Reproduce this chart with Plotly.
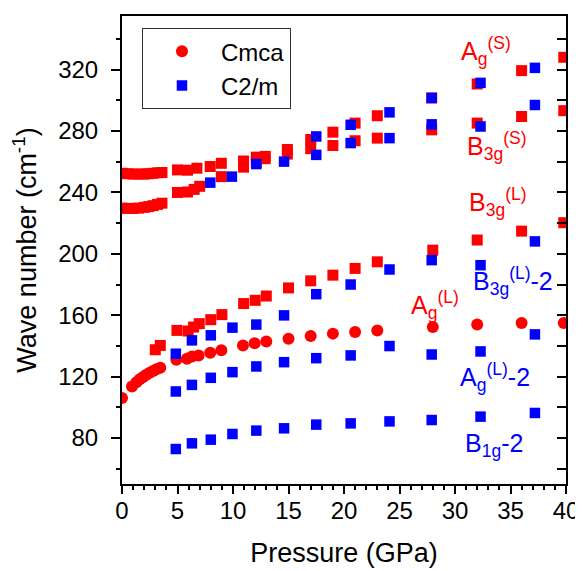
import plotly.graph_objects as go

# ---------------- data ----------------
# Cmca (red)
ag_s_p = [0, 0.5, 1.0, 1.5, 2.0, 2.4, 2.8, 3.2, 3.6, 5.0, 5.9, 6.75, 7.95, 8.95,
          10.95, 12.1, 12.9, 14.9, 17.0, 19.0, 21.0, 23.0, 27.9, 32.0, 36.0, 39.8]
ag_s_w = [252.5, 252.2, 252.0, 252.0, 252.0, 252.2, 252.5, 252.8, 253.0, 254.7, 254.5, 255.8, 256.9, 259.0,
          260.5, 263.0, 263.5, 268.0, 274.5, 279.3, 285.2, 290.0, 301.6, 310.7, 319.4, 328.1]

b3g_s_p = [0, 0.5, 1.0, 1.5, 2.0, 2.4, 2.8, 3.2, 3.6, 5.0, 5.9, 6.5, 7.0, 8.95,
           10.95, 12.1, 12.9, 14.9, 17.0, 19.0, 21.0, 23.0, 27.9, 32.0, 36.0, 39.8]
b3g_s_w = [229.8, 229.6, 229.6, 229.8, 230.3, 230.8, 231.4, 232.2, 233.0, 240.0, 240.3, 242.0, 244.0, 250.3,
           256.5, 259.5, 262.0, 265.0, 268.5, 270.6, 273.7, 275.4, 280.8, 285.2, 289.5, 293.3]

b3g_l_p = [3.0, 3.45, 4.95, 5.95, 6.45, 6.96, 8.0, 9.0, 10.96, 12.0, 13.0, 15.0,
           17.0, 19.0, 21.0, 23.0, 28.0, 32.0, 36.0, 39.8]
b3g_l_w = [137.5, 140.3, 150.1, 149.7, 152.3, 154.5, 157.1, 160.4, 167.6, 169.7, 172.5, 177.8,
           182.4, 186.1, 190.5, 194.8, 202.4, 209.0, 214.8, 220.3]

ag_l_p = [0, 0.9, 1.3, 1.6, 1.9, 2.2, 2.5, 2.8, 3.1, 3.45, 4.9, 5.85, 6.3, 6.9, 7.95, 8.95,
          10.9, 11.95, 13.0, 15.0, 17.0, 19.0, 21.0, 23.0, 28.0, 32.0, 36.0, 39.8]
ag_l_w = [106.1, 113.5, 116.3, 118.3, 119.8, 121.2, 122.5, 123.7, 124.8, 125.8, 131.0, 131.6, 133.1, 133.8, 135.5, 137.1,
          140.3, 141.8, 142.9, 144.7, 146.4, 148.0, 149.0, 150.1, 152.3, 154.0, 154.9, 155.0]

# C2/m (blue)
c2m_hi_p = [17.5, 20.6, 24.1, 27.9, 32.3, 37.2]
c2m_hi_w = [276.5, 284.1, 292.2, 301.6, 311.4, 321.2]

c2m_mid_p = [7.95, 9.9, 12.1, 14.6, 17.5, 20.6, 24.1, 27.9, 32.3, 37.2]
c2m_mid_w = [246.4, 250.3, 258.5, 260.1, 264.5, 272.2, 275.4, 284.4, 283.0, 297.0]

c2m_p = [4.85, 6.3, 8.0, 9.95, 12.1, 14.6, 17.5, 20.6, 24.1, 27.9, 32.3, 37.2]
b3g_l2_w = [134.9, 143.6, 146.9, 151.9, 153.9, 159.9, 173.7, 180.0, 189.8, 195.9, 192.6, 208.1]
ag_l2_w = [110.3, 114.6, 119.2, 122.9, 126.6, 129.4, 132.0, 133.8, 139.9, 134.4, 136.4, 147.5]
b1g2_w = [72.8, 76.5, 78.9, 82.6, 84.8, 86.3, 88.7, 89.5, 90.8, 91.7, 93.9, 96.3]

# labels: (text, colour, x, y)
labels = [
    ("A<sub>g</sub><sup>(S)</sup>", "#ff0000", 30.4, 332),
    ("B<sub>3g</sub><sup>(S)</sup>", "#ff0000", 30.9, 270.5),
    ("B<sub>3g</sub><sup>(L)</sup>", "#ff0000", 31.1, 234),
    ("B<sub>3g</sub><sup>(L)</sup>-2", "#0000ff", 31.4, 182.5),
    ("A<sub>g</sub><sup>(L)</sup>", "#ff0000", 25.9, 166.5),
    ("A<sub>g</sub><sup>(L)</sup>-2", "#0000ff", 30.3, 120),
    ("B<sub>1g</sub>-2", "#0000ff", 30.7, 75.5),
]

RED = "#ff0000"
BLUE = "#0000ff"
FONT = "Liberation Sans, Arial, sans-serif"

fig = go.Figure()

def add(px, wy, color, symbol, size, name=None, show=False):
    fig.add_trace(go.Scatter(
        x=px, y=wy, mode="markers",
        marker=dict(color=color, symbol=symbol, size=size, line=dict(width=0)),
        name=name if name else "", showlegend=show,
    ))

add(ag_s_p, ag_s_w, RED, "square", 11)
add(b3g_s_p, b3g_s_w, RED, "square", 11)
add(b3g_l_p, b3g_l_w, RED, "square", 11)
add(ag_l_p, ag_l_w, RED, "circle", 12, "Cmca", True)

add(c2m_p, b3g_l2_w, BLUE, "square", 10.5, "C2/m", True)
add(c2m_p, ag_l2_w, BLUE, "square", 10.5)
add(c2m_p, b1g2_w, BLUE, "square", 10.5)
add(c2m_mid_p, c2m_mid_w, BLUE, "square", 10.5)
add(c2m_hi_p, c2m_hi_w, BLUE, "square", 10.5)

# dummy trace for right-side inside ticks
fig.add_trace(go.Scatter(x=[], y=[], yaxis="y2", showlegend=False, hoverinfo="skip"))

for text, color, x, y in labels:
    fig.add_annotation(x=x, y=y, text=text, showarrow=False, xanchor="left", yanchor="middle",
                       font=dict(family=FONT, size=25, color=color))

fig.update_layout(
    width=575, height=563,
    margin=dict(l=114, r=17, t=8, b=87),
    paper_bgcolor="white", plot_bgcolor="white",
    font=dict(family=FONT, size=22, color="black"),
    showlegend=True,
    legend=dict(x=0.045, y=0.974, xanchor="left", yanchor="top",
                bgcolor="white", bordercolor="#333333", borderwidth=1,
                font=dict(family=FONT, size=24, color="black"),
                itemwidth=68, tracegroupgap=0),
    xaxis=dict(range=[0, 40], dtick=5, tick0=0, showgrid=False, zeroline=False, automargin=False,
               showline=True, linecolor="black", linewidth=2, mirror=True,
               ticks="outside", ticklen=8, tickwidth=2, tickcolor="black",
               minor=dict(dtick=1, ticks="outside", ticklen=4, tickwidth=1.5, tickcolor="black"),
               tickfont=dict(family=FONT, size=24), ticklabelstandoff=-4,
               title=dict(text="Pressure (GPa)", font=dict(family=FONT, size=27), standoff=20)),
    yaxis=dict(range=[50, 355], dtick=40, tick0=0, showgrid=False, zeroline=False, automargin=False,
               showline=True, linecolor="black", linewidth=2, mirror=True,
               ticks="outside", ticklen=9, tickwidth=2, tickcolor="black",
               minor=dict(dtick=20, ticks="outside", ticklen=4, tickwidth=1.5, tickcolor="black"),
               tickfont=dict(family=FONT, size=24), ticklabelstandoff=8,
               title=dict(text="Wave number (cm<sup>-1</sup>)", font=dict(family=FONT, size=27), standoff=14)),
    yaxis2=dict(range=[50, 355], dtick=20, tick0=0, overlaying="y", side="right", automargin=False,
                showgrid=False, zeroline=False, showline=False, showticklabels=False,
                ticks="inside", ticklen=9, tickwidth=2, tickcolor="black"),
)

fig.write_html("out.html")
